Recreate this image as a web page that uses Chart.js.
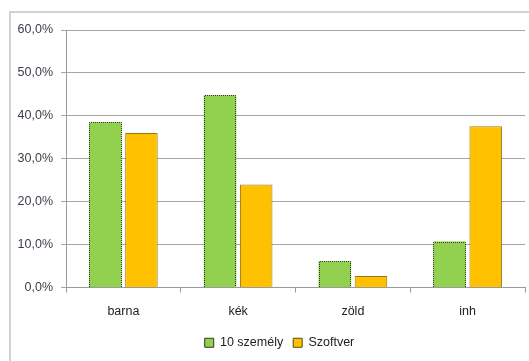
<!DOCTYPE html>
<html>
<head>
<meta charset="utf-8">
<script src="https://cdn.jsdelivr.net/npm/chart.js@4/dist/chart.umd.min.js"></script>
<style>
  html, body { margin: 0; padding: 0; background: #fff; }
  #wrap { position: relative; width: 529px; height: 361px; overflow: hidden; }
  #frame { position: absolute; left: 9px; top: 11px; width: 540px; height: 400px;
           border-left: 2px solid #d2d2d2; border-top: 2px solid #d2d2d2; }
  canvas { position: absolute; left: 0; top: 0; }
</style>
</head>
<body>
<div id="wrap">
  <div id="frame"></div>
  <canvas id="c" width="529" height="361"></canvas>
</div>
<script>
const categories = ['barna', 'kék', 'zöld', 'inh'];
const szemelyValues = [38.5, 44.8, 6.1, 10.7];
const szoftverValues = [36.0, 24.0, 2.7, 37.6];
const seriesNames = ['10 személy', 'Szoftver'];

const GREEN = '#92d050';
const ORANGE = '#ffc000';
const FONT = "'Liberation Sans', 'DejaVu Sans', sans-serif";

// dotted outline around the green bars
const dottedOutline = {
  id: 'dottedOutline',
  afterDatasetsDraw(chart) {
    const meta = chart.getDatasetMeta(0);
    const ctx = chart.ctx;
    ctx.save();
    ctx.strokeStyle = '#2e3a1c';
    ctx.lineWidth = 1;
    ctx.setLineDash([1, 1]);
    meta.data.forEach(bar => {
      const p = bar.getProps(['x', 'y', 'base', 'width'], true);
      const l = Math.round(p.x - p.width / 2) + 0.5;
      const r = Math.round(p.x + p.width / 2) - 0.5;
      const t = Math.round(p.y) + 0.5;
      const b = Math.round(p.base);
      ctx.beginPath();
      ctx.moveTo(l, b);
      ctx.lineTo(l, t);
      ctx.lineTo(r, t);
      ctx.lineTo(r, b);
      ctx.stroke();
    });
    ctx.restore();
  }
};

// centre the legend under the framed area rather than the full canvas
const legendShift = {
  id: 'legendShift',
  afterLayout(chart) {
    if (chart.legend) {
      chart.legend.left += 17;
      chart.legend.right += 17;
    }
  }
};

new Chart(document.getElementById('c'), {
  type: 'bar',
  data: {
    labels: categories,
    datasets: [
      {
        label: seriesNames[0],
        data: szemelyValues,
        backgroundColor: GREEN,
        borderWidth: 0
      },
      {
        label: seriesNames[1],
        data: szoftverValues,
        backgroundColor: ORANGE,
        borderColor: '#9a7a12',
        borderWidth: 1
      }
    ]
  },
  options: {
    responsive: false,
    animation: false,
    devicePixelRatio: 1,
    categoryPercentage: 0.63,
    barPercentage: 0.9,
    layout: { padding: { top: 30, right: 4, left: 0, bottom: 2 } },
    plugins: {
      tooltip: { enabled: false },
      legend: {
        position: 'bottom',
        labels: {
          font: { family: FONT, size: 12.5 },
          color: '#222',
          boxWidth: 9,
          boxHeight: 9,
          padding: 10,
          generateLabels(chart) {
            return chart.data.datasets.map((ds, i) => ({
              text: ds.label,
              fillStyle: ds.backgroundColor,
              strokeStyle: i === 0 ? '#2e3a1c' : '#5a4a10',
              lineWidth: 1,
              datasetIndex: i,
              fontColor: '#222'
            }));
          }
        }
      }
    },
    scales: {
      x: {
        grid: {
          display: true,
          drawOnChartArea: false,
          offset: true,
          tickLength: 5,
          color: '#9a9a9a'
        },
        border: { color: '#9a9a9a', width: 1 },
        ticks: {
          font: { family: FONT, size: 12.5 },
          color: '#222',
          padding: 12
        },
        afterFit(scale) { scale.height = 39; }
      },
      y: {
        min: 0,
        max: 60,
        grid: { color: '#a6a6a6', tickLength: 5, lineWidth: 1 },
        border: { color: '#9a9a9a', width: 1 },
        ticks: {
          stepSize: 10,
          font: { family: FONT, size: 12.5 },
          color: '#3c3c4a',
          padding: 8,
          callback: v => v.toFixed(1).replace('.', ',') + '%'
        },
        afterFit(scale) { scale.width = 66; }
      }
    }
  },
  plugins: [dottedOutline, legendShift]
});
</script>
</body>
</html>
